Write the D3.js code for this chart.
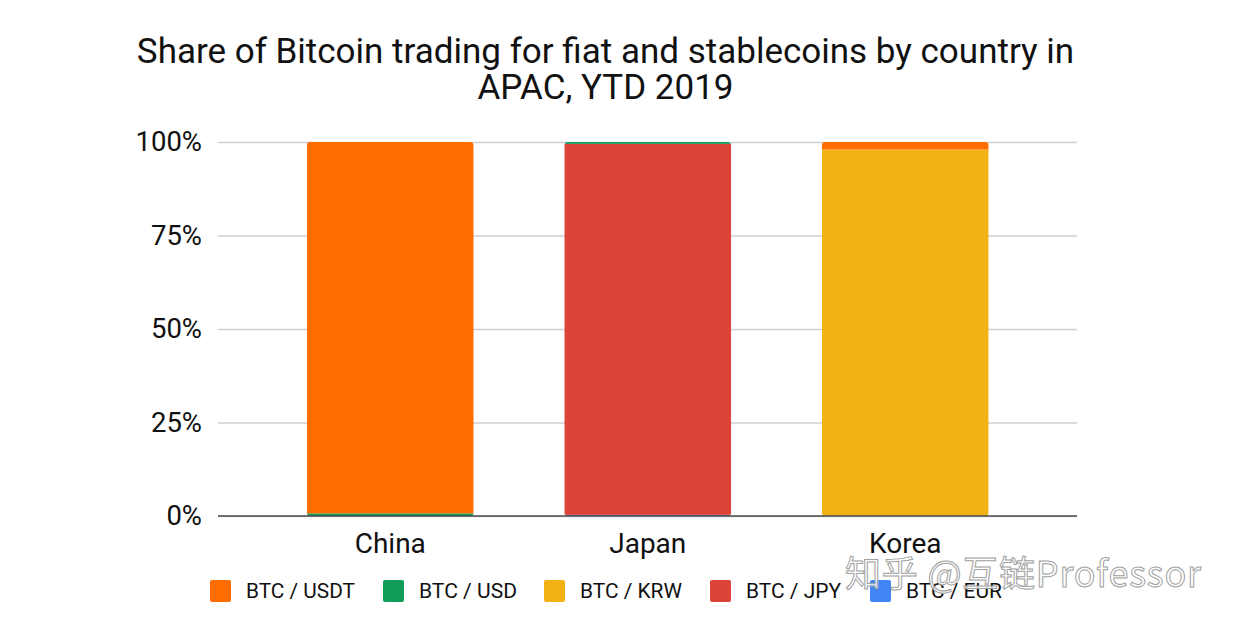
<!DOCTYPE html>
<html>
<head>
<meta charset="utf-8">
<script src="https://cdnjs.cloudflare.com/ajax/libs/d3/7.8.5/d3.min.js"></script>
<style>
  html, body { margin: 0; padding: 0; background: #fff; }
  svg { display: block; }
  text { font-family: Roboto, sans-serif; fill: #111; }
</style>
</head>
<body>
<div id="chart"></div>
<script>
const titleLines = ['Share of Bitcoin trading for fiat and stablecoins by country in', 'APAC, YTD 2019'];
const countries = ['China', 'Japan', 'Korea'];
const seriesNames = ['BTC / USDT', 'BTC / USD', 'BTC / KRW', 'BTC / JPY', 'BTC / EUR'];
const seriesColors = ['#ff6d01', '#0f9d58', '#f4b116', '#db4437', '#4285f4'];
const yTicks = [0, 25, 50, 75, 100];

// one array per series, in country order
const usdt = [99.3, 0, 2];
const usd = [0.7, 0.5, 0];
const krw = [0, 0, 98];
const jpy = [0, 99.2, 0];
const eur = [0, 0.3, 0];

const rows = countries.map((c, i) => ({
  country: c,
  'BTC / USDT': usdt[i],
  'BTC / USD': usd[i],
  'BTC / KRW': krw[i],
  'BTC / JPY': jpy[i],
  'BTC / EUR': eur[i]
}));

const width = 1233, height = 623;
const svg = d3.select('#chart').append('svg')
    .attr('width', width)
    .attr('height', height);

const x = d3.scaleBand()
    .domain(countries)
    .range([261.5, 1034])
    .paddingInner(0.352)
    .paddingOuter(0.176);

const y = d3.scaleLinear().domain([0, 100]).range([516, 142]);

const color = d3.scaleOrdinal().domain(seriesNames).range(seriesColors);

// title
svg.append('g').selectAll('text')
    .data(titleLines)
    .join('text')
    .attr('x', 605.5)
    .attr('y', (d, i) => 63 + i * 36)
    .attr('text-anchor', 'middle')
    .attr('font-size', 35)
    .text(d => d);

// gridlines and y labels
const yAxis = d3.axisLeft(y)
    .tickValues(yTicks)
    .tickSize(-859)
    .tickPadding(16)
    .tickFormat(d => d + '%');

svg.append('g')
    .attr('transform', 'translate(218,0)')
    .call(yAxis)
    .call(g => g.select('.domain').remove())
    .call(g => g.selectAll('.tick line').attr('stroke', '#cfcfcf').attr('stroke-width', 1.5))
    .call(g => g.selectAll('.tick text')
        .attr('font-size', 27.5)
        .attr('fill', '#111')
        .style('font-family', 'Roboto, sans-serif'));

// rounded tops on the stacks
const defs = svg.append('defs');
defs.selectAll('clipPath')
    .data(countries)
    .join('clipPath')
    .attr('id', d => 'clip-' + d)
    .append('rect')
    .attr('x', d => x(d))
    .attr('y', y(100))
    .attr('width', x.bandwidth())
    .attr('height', y(0) - y(100))
    .attr('rx', 3.5);

// stack goes bottom-up in the reverse of the legend order
const stack = d3.stack().keys(seriesNames.slice().reverse());

svg.append('g').selectAll('g')
    .data(stack(rows))
    .join('g')
    .attr('fill', d => color(d.key))
    .selectAll('rect')
    .data(d => d)
    .join('rect')
    .attr('clip-path', d => `url(#clip-${d.data.country})`)
    .attr('x', d => x(d.data.country))
    .attr('y', d => y(d[1]))
    .attr('width', x.bandwidth())
    .attr('height', d => y(d[0]) - y(d[1]));

// baseline and country labels
const xAxis = d3.axisBottom(x).tickSize(0).tickPadding(17);

svg.append('line')
    .attr('x1', 218).attr('x2', 1077)
    .attr('y1', y(0)).attr('y2', y(0))
    .attr('stroke', '#4a4a4a')
    .attr('stroke-width', 1.6);

svg.append('g')
    .attr('transform', `translate(0,${y(0)})`)
    .call(xAxis)
    .call(g => g.select('.domain').remove())
    .call(g => g.selectAll('.tick text')
        .attr('font-size', 28)
        .attr('fill', '#111')
        .style('font-family', 'Roboto, sans-serif'));

// legend
const legendX = [210, 383, 544, 710, 870];
const legend = svg.append('g').selectAll('g')
    .data(seriesNames)
    .join('g')
    .attr('transform', (d, i) => `translate(${legendX[i]},580)`);

legend.append('rect')
    .attr('width', 21)
    .attr('height', 22)
    .attr('rx', 2)
    .attr('fill', d => color(d));

legend.append('text')
    .attr('x', 36)
    .attr('y', 18)
    .attr('font-size', 21)
    .attr('textLength', (d, i) => [109, 98, 102, 95, 96][i])
    .attr('lengthAdjust', 'spacingAndGlyphs')
    .text(d => d);

// watermark sits above everything
svg.append('text')
    .attr('x', 845)
    .attr('y', 587)
    .attr('font-size', 36)
    .style('font-family', '"Noto Sans CJK SC", Roboto, sans-serif')
    .style('fill', 'rgba(255,255,255,0.75)')
    .style('stroke', '#a0a0a0')
    .style('stroke-width', 1)
    .attr('textLength', 356)
    .text('知乎 @互链Professor');
</script>
</body>
</html>
